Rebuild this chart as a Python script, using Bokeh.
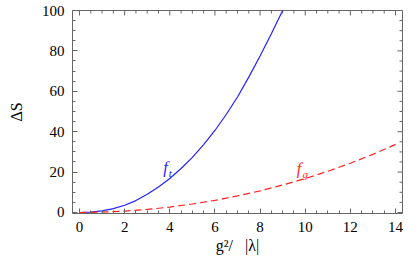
from bokeh.plotting import figure
from bokeh.models import Range1d, LinearAxis, FixedTicker
from bokeh.core.properties import value
from bokeh.embed import file_html
from bokeh.resources import INLINE

# data
x_t = [0, 0.5, 1, 1.5, 2, 2.5, 3, 3.5, 4, 4.5, 5, 5.5, 6, 6.5, 7, 7.5, 8, 8.5, 9]
f_t = [0, 0.2, 0.8, 1.9, 3.6, 5.9, 9.0, 12.6, 16.8, 21.8, 27.3, 33.6, 40.6, 48.5, 57.2, 67.0, 77.5, 88.5, 100]
x_g = [0, 1, 2, 3, 4, 5, 6, 7, 8, 9, 10, 11, 12, 13, 14]
f_g = [0, 0.2, 0.7, 1.5, 2.7, 4.2, 6.0, 8.2, 10.7, 13.6, 16.8, 20.4, 24.4, 28.8, 33.7]
x_ticks = [0, 2, 4, 6, 8, 10, 12, 14]
y_ticks = [0, 20, 40, 60, 80, 100]
x_minor = [i * 0.5 for i in range(0, 29) if i % 4 != 0]
y_minor = [i * 5 for i in range(0, 21) if i % 4 != 0]

FONT = "'Liberation Serif', 'Times New Roman', serif"
FRAME = "#666666"
X0, X1, Y0, Y1 = -0.31, 14.31, -0.5, 100.0
W, H = 420, 260
BL, BR, BT, BB = 72, 18, 10, 47
px_x = (X1 - X0) / (W - BL - BR)   # data units per pixel
px_y = (Y1 - Y0) / (H - BT - BB)

p = figure(width=W, height=H, output_backend="svg", toolbar_location=None,
           x_range=Range1d(X0, X1), y_range=Range1d(Y0, Y1),
           min_border_left=BL, min_border_right=BR, min_border_top=BT, min_border_bottom=BB,
           x_axis_location=None, y_axis_location=None)
p.xgrid.visible = False
p.ygrid.visible = False
p.outline_line_color = FRAME
p.outline_line_width = 1
p.background_fill_color = "white"
p.border_fill_color = "white"

def style(ax):
    ax.axis_line_color = None
    ax.major_tick_in = 5
    ax.major_tick_out = 0
    ax.minor_tick_in = 3
    ax.minor_tick_out = 0
    ax.major_tick_line_color = FRAME
    ax.minor_tick_line_color = FRAME
    ax.major_label_text_font = FONT
    ax.major_label_text_font_size = "15px"
    ax.major_label_text_color = "black"
    ax.major_label_standoff = 8
    ax.axis_label_text_font = FONT
    ax.axis_label_text_font_size = "16px"
    ax.axis_label_text_font_style = "normal"
    ax.axis_label_text_color = "black"

xb = LinearAxis(ticker=FixedTicker(ticks=x_ticks, minor_ticks=x_minor))
style(xb)
xb.axis_label = "g²/\u00a0\u00a0\u00a0|λ|"
xb.axis_label_standoff = 2
p.add_layout(xb, "below")

yl = LinearAxis(ticker=FixedTicker(ticks=y_ticks, minor_ticks=y_minor))
style(yl)
yl.axis_label = "ΔS"
yl.axis_label_standoff = 14
p.add_layout(yl, "left")

# mirrored inward ticks on top and right edges
p.segment(x0=x_ticks, y0=[Y1] * len(x_ticks), x1=x_ticks, y1=[Y1 - 5 * px_y] * len(x_ticks),
          line_color=FRAME, line_width=1)
p.segment(x0=x_minor, y0=[Y1] * len(x_minor), x1=x_minor, y1=[Y1 - 3 * px_y] * len(x_minor),
          line_color=FRAME, line_width=1)
p.segment(x0=[X1] * len(y_ticks), y0=y_ticks, x1=[X1 - 5 * px_x] * len(y_ticks), y1=y_ticks,
          line_color=FRAME, line_width=1)
p.segment(x0=[X1] * len(y_minor), y0=y_minor, x1=[X1 - 3 * px_x] * len(y_minor), y1=y_minor,
          line_color=FRAME, line_width=1)

p.line(x_t, f_t, line_color="#2222ff", line_width=1.2)
p.line(x_g, f_g, line_color="#ff2222", line_width=1.2, line_dash="7 4")

# curve labels
p.text([3.81], [22.5], text=["f"], text_font=value(FONT), text_font_style="italic",
       text_font_size="16px", text_color="#2222ff", text_align="center", text_baseline="middle")
p.text([4.02], [19.5], text=["t"], text_font=value(FONT), text_font_style="italic",
       text_font_size="11px", text_color="#2222ff", text_align="center", text_baseline="middle")
p.text([9.72], [21.8], text=["f"], text_font=value(FONT), text_font_style="italic",
       text_font_size="16px", text_color="#ff2222", text_align="center", text_baseline="middle")
p.text([10.0], [19.0], text=["g"], text_font=value(FONT), text_font_style="italic",
       text_font_size="11px", text_color="#ff2222", text_align="center", text_baseline="middle")

open("out.html", "w").write(file_html(p, INLINE))
